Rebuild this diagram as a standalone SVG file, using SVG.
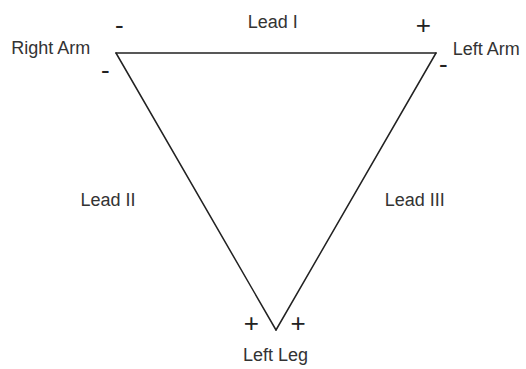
<svg xmlns="http://www.w3.org/2000/svg" width="526" height="369" viewBox="0 0 526 369">
<style>
.lbl{font-family:"Liberation Sans",Arial,sans-serif;font-size:18px;fill:#333}
.sg{font-family:"Liberation Sans",Arial,sans-serif;font-size:26px;fill:#222}
.ln{stroke:#222;stroke-width:1.5;fill:none;stroke-linecap:round}
</style>
<rect width="526" height="369" fill="#fff"/>
<g id="connectors">
<line class="ln" x1="116" y1="53" x2="436" y2="53"/>
<line class="ln" x1="116" y1="53" x2="276" y2="330"/>
<line class="ln" x1="436" y1="53" x2="276" y2="330"/>
<text class="lbl" x="247.7" y="28">Lead I</text>
<text class="lbl" x="80.4" y="206">Lead II</text>
<text class="lbl" x="384.7" y="206">Lead III</text>
</g>
<g id="right-arm">
<text class="lbl" x="11.3" y="54">Right Arm</text>
<text class="sg" x="115" y="34">-</text>
<text class="sg" x="101" y="79">-</text>
</g>
<g id="left-arm">
<text class="lbl" x="452.7" y="55">Left Arm</text>
<text class="sg" x="415.8" y="33.5">+</text>
<text class="sg" x="439" y="73">-</text>
</g>
<g id="left-leg">
<text class="lbl" x="275.5" y="361" text-anchor="middle">Left Leg</text>
<text class="sg" x="243.8" y="331.7">+</text>
<text class="sg" x="290.5" y="331.5">+</text>
</g>
</svg>
